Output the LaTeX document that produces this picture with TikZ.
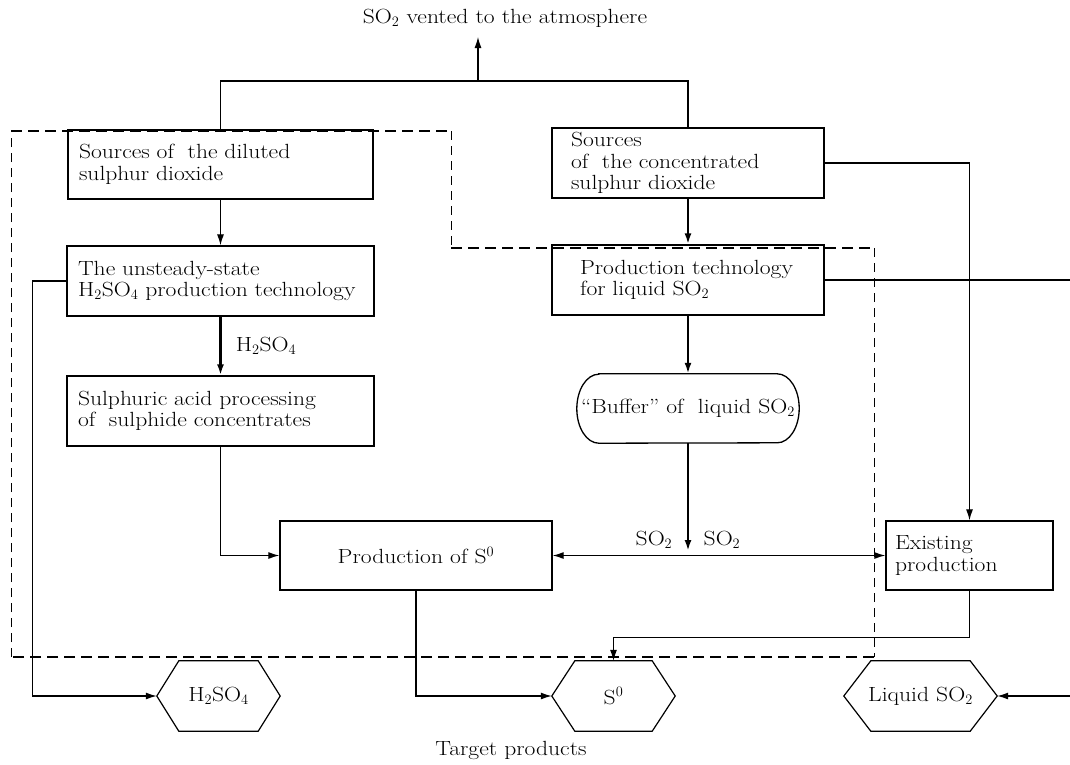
\documentclass[tikz,border=0pt]{standalone}
\usepackage{fontspec}
\setmainfont{Latin Modern Roman}[FakeStretch=1.15]
\usetikzlibrary{arrows.meta,calc}
\begin{document}
\begin{tikzpicture}[x=1pt,y=-1pt,
  every node/.style={font=\fontsize{20.5}{21.5}\selectfont},
  box/.style={draw, line width=1.3pt, inner ysep=0pt, align=left, minimum height=70pt},
  hexnode/.style={inner sep=0pt, minimum height=70pt},
  hexline/.style={line width=1.2pt},
  thin/.style={line width=1.2pt},
  thk/.style={line width=2.6pt},
  tip/.style={-{Latex[length=11pt,width=7pt]}},
  dtip/.style={{Latex[length=11pt,width=7pt]}-{Latex[length=11pt,width=7pt]}},
  bigdash/.style={line width=2.3pt, dash pattern=on 11pt off 6pt},
  middash/.style={line width=1.5pt, dash pattern=on 11pt off 6pt},
  smalldash/.style={line width=1pt, dash pattern=on 9pt off 6pt},
  lbl/.style={inner sep=0pt}
]
\useasboundingbox (0,0) rectangle (1070,764);

% dashed boundary
\draw[bigdash] (11,131) -- (451,131);
\draw[smalldash] (451,131) -- (451,248);
\draw[middash] (451,248) -- (874,248);
\draw[smalldash] (874,248) -- (874,657);
\draw[bigdash] (874,657) -- (11,657);
\draw[smalldash] (11,657) -- (11,131);

% title
\node[lbl] (title) at (505,18) {SO$_2$ vented to the atmosphere};
\coordinate (vent) at (478,37);
\coordinate (jt) at (478,81);

% boxes
\node[box, text width=283pt, inner xsep=11pt, minimum height=69pt] (A) at (220.5,164.5)
  {Sources of\ \ the diluted\\sulphur dioxide};
\node[box, text width=285pt, inner xsep=11pt] (B) at (220.5,281)
  {The unsteady-state\\H$_2$SO$_4$ production technology};
\node[box, text width=285pt, inner xsep=11pt] (C) at (220.5,411)
  {Sulphuric acid processing\\of\ \ sulphide concentrates};
\node[box, text width=234pt, inner xsep=19pt] (D) at (688,163)
  {Sources\\of\ \ the concentrated\\sulphur dioxide};
\node[box, text width=216pt, inner xsep=28pt] (E) at (688,280)
  {Production technology\\for liquid SO$_2$};
\node[inner sep=0pt, minimum width=222pt, minimum height=69pt] (F) at (688,408.5)
  {“Buffer” of\ \ liquid SO$_2$};
\draw[line width=1.3pt] ([xshift=22pt]F.north west) -- ([xshift=-22pt]F.north east)
  arc[start angle=90, end angle=-90, x radius=22pt, y radius=34.5pt]
  -- ([xshift=22pt]F.south west)
  arc[start angle=270, end angle=90, x radius=22pt, y radius=34.5pt] -- cycle;
\node[box, minimum width=272pt, minimum height=69pt, align=center] (G) at (416,555.5)
  {Production of S$^0$};
\node[box, text width=149pt, inner xsep=9pt, minimum height=69pt] (H) at (969.5,555.5)
  {Existing\\production};

% hexagons
\node[hexnode, minimum width=123pt] (X1) at (218.5,696) {H$_2$SO$_4$};
\node[hexnode, minimum width=123pt] (X2) at (613.5,696) {S$^0$};
\node[hexnode, minimum width=153pt] (X3) at (920.5,696) {Liquid SO$_2$};
\foreach \h/\d in {X1/22, X2/23, X3/27}{
  \draw[hexline] (\h.west) -- ([xshift=\d pt]\h.north west) -- ([xshift=-\d pt]\h.north east)
    -- (\h.east) -- ([xshift=-\d pt]\h.south east) -- ([xshift=\d pt]\h.south west) -- cycle;
}

\node[lbl] (tp) at (511,750) {Target products};

% connectors
\draw[thin] (A.north) |- (jt) -| (D.north);
\draw[thin, tip] (jt) -- (vent);
\draw[thin, tip] (A.south) -- (B.north);
\draw[thk, tip] (B.south) -- (C.north) node[lbl, midway, right=14pt] {H$_2$SO$_4$};
\draw[thin, tip] (C.south) |- (G.west);
\draw[thin, tip] (B.west) -- ++(-34,0) |- (X1.west);
\draw[thk, tip] (D.south) -- (E.north);
\draw[thk, tip] (E.south) -- (F.north);
\coordinate (fdown) at (688,551);
\draw[thk, tip] (F.south) -- (fdown);
\node[lbl] (so2a) at (654,540) {SO$_2$};
\node[lbl] (so2b) at (722,540) {SO$_2$};
\draw[thin, dtip] (G.east) -- (H.west);
\draw[thin, tip] (D.east) -| (H.north);
\coordinate (eR) at (1070,280);
\draw[thin] (E.east) -- (E.east -| eR);
\draw[thin, tip] (H.south) -- ++(0,47) -| (X2.north);
\draw[thin, tip] (G.south) |- (X2.west);
\coordinate (lR) at (1070,696);
\draw[thin, tip] (lR) -- (X3.east);
\end{tikzpicture}
\end{document}
